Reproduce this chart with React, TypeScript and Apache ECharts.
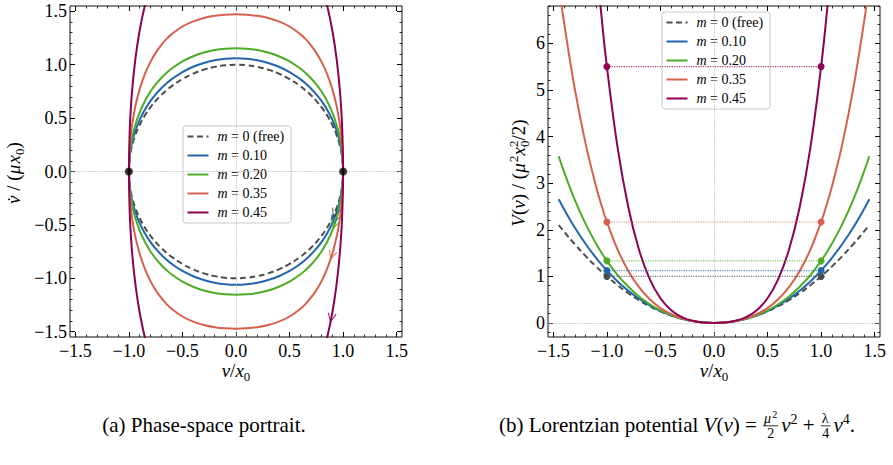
import React, { useEffect, useRef } from 'react';
import * as echarts from 'echarts';

const NAMES = ['m = 0 (free)', 'm = 0.10', 'm = 0.20', 'm = 0.35', 'm = 0.45'];
const COLORS = ['#4d4d4d', '#2166ac', '#4dac26', '#d6604d', '#8e0152'];

// (a) phase portrait: v >= 0 samples and upper-branch vdot values
const PHASE_V = [0, 0.1, 0.2, 0.3, 0.4, 0.5, 0.6, 0.65, 0.7, 0.75, 0.8, 0.85, 0.9, 0.94, 0.97, 0.99, 1.0];
const PHASE_M0 = [1, 0.995, 0.9798, 0.9539, 0.9165, 0.866, 0.8, 0.7599, 0.7141, 0.6614, 0.6, 0.5268, 0.4359, 0.3412, 0.2431, 0.1411, 0];
const PHASE_M010 = [1.0607, 1.0559, 1.0415, 1.0169, 0.9807, 0.9312, 0.8653, 0.8247, 0.7778, 0.7232, 0.6586, 0.5807, 0.4827, 0.3792, 0.271, 0.1576, 0];
const PHASE_M020 = [1.1547, 1.1503, 1.137, 1.1138, 1.0793, 1.0308, 0.9644, 0.9227, 0.8737, 0.8157, 0.7462, 0.6609, 0.5519, 0.4353, 0.312, 0.1818, 0];
const PHASE_M035 = [1.472, 1.4685, 1.4577, 1.4378, 1.406, 1.3579, 1.2867, 1.2393, 1.1818, 1.1113, 1.0241, 0.9139, 0.7689, 0.6101, 0.4392, 0.2567, 0];
const PHASE_M045 = [2.3452, 2.343, 2.3351, 2.3181, 2.2858, 2.2291, 2.1347, 2.0674, 1.9823, 1.8745, 1.7369, 1.5584, 1.3182, 1.0503, 0.7585, 0.4441, 0];

// turning points and flow arrows
const TURN_POINTS = [[-1, 0], [1, 0]];
const ARROW_V = [0.92, 0.91, 0.92, 0.895, 0.89];
const ARROW_VDOT = [-0.392, -0.46, -0.498, -0.786, -1.373];
const ARROW_ROT = [-23, -23, -19, -17, -11];

// (b) potential: v >= 0 samples and V(v) values
const POT_V = [0, 0.1, 0.2, 0.3, 0.4, 0.5, 0.6, 0.7, 0.8, 0.9, 1.0, 1.05, 1.1, 1.2, 1.3, 1.4, 1.45];
const POT_M0 = [0, 0.01, 0.04, 0.09, 0.16, 0.25, 0.36, 0.49, 0.64, 0.81, 1.0, 1.1025, 1.21, 1.44, 1.69, 1.96, 2.1025];
const POT_M010 = [0, 0.01, 0.0402, 0.091, 0.1632, 0.2578, 0.3762, 0.52, 0.6912, 0.892, 1.125, 1.2544, 1.393, 1.6992, 2.047, 2.4402, 2.6551];
const POT_M020 = [0, 0.01, 0.0405, 0.0927, 0.1685, 0.2708, 0.4032, 0.57, 0.7765, 1.0287, 1.3333, 1.5077, 1.698, 2.1312, 2.642, 3.2405, 3.576];
const POT_M035 = [0, 0.0101, 0.0419, 0.0995, 0.1899, 0.3229, 0.5112, 0.7701, 1.1179, 1.5755, 2.1667, 2.5206, 2.9181, 3.8592, 5.0221, 6.4419, 7.2598];
const POT_M045 = [0, 0.0105, 0.0472, 0.1265, 0.2752, 0.5313, 0.9432, 1.5705, 2.4832, 3.7625, 5.5, 6.5723, 7.7985, 10.77, 14.54, 19.25, 21.99];
const ENERGY = [1.0, 1.125, 1.333, 2.167, 5.5];

// ticks
const X_TICKS = [-1.5, -1.0, -0.5, 0, 0.5, 1.0, 1.5];
const VDOT_TICKS = [-1.5, -1.0, -0.5, 0, 0.5, 1.0, 1.5];
const POT_TICKS = [0, 1, 2, 3, 4, 5, 6];

const SERIF = 'serif';
const ARROW_PATH = 'path://M0,10L-5,0L-3.8,-0.7L0,7.3L3.8,-0.7L5,0Z';

function range(a: number, b: number, step: number): number[] {
  const out: number[] = [];
  const n = Math.round((b - a) / step);
  for (let i = 0; i <= n; i++) out.push(Math.round((a + i * step) * 1000) / 1000);
  return out;
}
const X_MINOR = range(-1.5, 1.5, 0.1);
const VDOT_MINOR = range(-1.5, 1.5, 0.1);
const POT_MINOR = range(-0.2, 6.8, 0.2);

const fmt1 = (v: number) => (Math.abs(v) < 1e-9 ? '0.0' : v.toFixed(1)).replace('-', '\u2212');
const fmt0 = (v: number) => String(Math.round(v)).replace('-', '\u2212');

function phaseLoop(vals: number[]): number[][] {
  const n = PHASE_V.length;
  const pts: number[][] = [];
  for (let i = n - 1; i >= 0; i--) pts.push([-PHASE_V[i], vals[i]]);
  for (let i = 1; i < n; i++) pts.push([PHASE_V[i], vals[i]]);
  for (let i = n - 2; i >= 0; i--) pts.push([PHASE_V[i], -vals[i]]);
  for (let i = 1; i < n; i++) pts.push([-PHASE_V[i], -vals[i]]);
  return pts;
}
function potCurve(vals: number[]): number[][] {
  const n = POT_V.length;
  const pts: number[][] = [];
  for (let i = n - 1; i >= 1; i--) pts.push([-POT_V[i], vals[i]]);
  for (let i = 0; i < n; i++) pts.push([POT_V[i], vals[i]]);
  return pts;
}

// ---------- text layout helpers (approximate Times-like advance widths, em units) ----------
const W_UP: Record<string, number> = {
  ' ': 0.25, '(': 0.333, ')': 0.333, '/': 0.278, '.': 0.25, '-': 0.333, '=': 0.564, '+': 0.564,
  a: 0.444, b: 0.5, c: 0.444, d: 0.5, e: 0.444, f: 0.333, g: 0.5, h: 0.5, i: 0.278, l: 0.278, m: 0.778,
  n: 0.5, o: 0.5, p: 0.5, r: 0.333, s: 0.389, t: 0.278, u: 0.5, v: 0.5, x: 0.5, z: 0.444,
  P: 0.556, L: 0.611, V: 0.722, '\u03bb': 0.55, '\u03bc': 0.576,
};
const W_IT: Record<string, number> = { v: 0.444, x: 0.444, m: 0.722, V: 0.611, '\u03bc': 0.576, '\u0307': 0 };

type Piece = { t: string; it?: boolean; s: number; dy?: number; adv?: boolean };
type Frac = { frac: true; num: Piece[]; den: Piece[] };
type Item = Piece | Frac;

function measure(p: Piece): number {
  let w = 0;
  for (const ch of p.t) {
    let cw = p.it && W_IT[ch] !== undefined ? W_IT[ch] : W_UP[ch];
    if (cw === undefined) cw = 0.5;
    w += cw;
  }
  return w * p.s;
}
function piecesWidth(ps: Piece[]): number {
  let w = 0;
  ps.forEach((p) => { if (p.adv !== false) w += measure(p); });
  return w;
}
function itemsWidth(items: Item[]): number {
  let w = 0;
  items.forEach((it) => {
    if ((it as Frac).frac) {
      const f = it as Frac;
      w += Math.max(piecesWidth(f.num), piecesWidth(f.den)) + 4;
    } else if ((it as Piece).adv !== false) w += measure(it as Piece);
  });
  return w;
}
function textEl(p: Piece, x: number, baseline: number) {
  const style: any = { text: p.t, fontFamily: SERIF, fontSize: p.s, fill: '#000', align: 'left', verticalAlign: 'middle' };
  if (p.it) style.fontStyle = 'italic';
  return { type: 'text', x, y: baseline + (p.dy || 0) - 0.3375 * p.s, silent: true, style };
}
function renderPieces(ps: Piece[], x0: number, baseline: number, out: any[]): number {
  let x = x0;
  ps.forEach((p) => {
    out.push(textEl(p, x, baseline));
    if (p.adv !== false) x += measure(p);
  });
  return x;
}
function renderItems(items: Item[], x0: number, baseline: number): any[] {
  const out: any[] = [];
  let x = x0;
  items.forEach((it) => {
    if ((it as Frac).frac) {
      const f = it as Frac;
      const nw = piecesWidth(f.num);
      const dw = piecesWidth(f.den);
      const fw = Math.max(nw, dw) + 2;
      const barY = baseline - 6.5;
      renderPieces(f.num, x + 1 + (fw - nw) / 2, barY - 3, out);
      renderPieces(f.den, x + 1 + (fw - dw) / 2, barY + 12, out);
      out.push({
        type: 'line', silent: true,
        shape: { x1: x + 1, y1: barY, x2: x + 1 + fw, y2: barY },
        style: { stroke: '#000', lineWidth: 0.8 },
      });
      x += fw + 4;
    } else {
      const p = it as Piece;
      out.push(textEl(p, x, baseline));
      if (p.adv !== false) x += measure(p);
    }
  });
  return out;
}
function centeredLine(items: Item[], cx: number, cy: number, size: number, rotate = false) {
  const w = itemsWidth(items);
  const children = renderItems(items, -w / 2, 0.3 * size);
  return { type: 'group', x: cx, y: cy, rotation: rotate ? Math.PI / 2 : 0, children };
}

const XNAME: Item[] = [
  { t: 'v', it: true, s: 19 }, { t: '/', s: 19 }, { t: 'x', it: true, s: 19 }, { t: '0', s: 13, dy: 4 },
];
const YNAME_A: Item[] = [
  { t: 'v\u0307', it: true, s: 19 }, { t: ' / (', s: 19 }, { t: '\u03bc', it: true, s: 19 },
  { t: 'x', it: true, s: 19 }, { t: '0', s: 13, dy: 4 }, { t: ')', s: 19 },
];
const YNAME_B: Item[] = [
  { t: 'V', it: true, s: 19 }, { t: '(', s: 19 }, { t: 'v', it: true, s: 19 }, { t: ') / (', s: 19 },
  { t: '\u03bc', it: true, s: 19 }, { t: '2', s: 13, dy: -7 }, { t: 'x', it: true, s: 19 },
  { t: '2', s: 13, dy: -7, adv: false }, { t: '0', s: 13, dy: 4 }, { t: '/2)', s: 19 },
];
const CAPTION_A: Item[] = [{ t: '(a) Phase-space portrait.', s: 21 }];
const CAPTION_B: Item[] = [
  { t: '(b) Lorentzian potential ', s: 21 }, { t: 'V', it: true, s: 21 }, { t: '(', s: 21 },
  { t: 'v', it: true, s: 21 }, { t: ') = ', s: 21 },
  { frac: true, num: [{ t: '\u03bc', it: true, s: 14 }, { t: '2', s: 10, dy: -5 }], den: [{ t: '2', s: 14 }] },
  { t: 'v', it: true, s: 21 }, { t: '2', s: 14, dy: -8 }, { t: ' + ', s: 21 },
  { frac: true, num: [{ t: '\u03bb', s: 14 }], den: [{ t: '4', s: 14 }] },
  { t: 'v', it: true, s: 21 }, { t: '4', s: 14, dy: -8 }, { t: '.', s: 21 },
];

// ---------- axes ----------
function mkAxis(gridIndex: number, position: string, min: number, max: number, ticks: number[], len: number, labelFmt?: (v: number) => string, margin = 4) {
  return {
    type: 'value', gridIndex, position, min, max,
    axisLine: { show: false, onZero: false },
    splitLine: { show: false },
    minorTick: { show: false },
    axisTick: { show: true, inside: true, length: len, customValues: ticks, lineStyle: { color: '#000', width: len > 4 ? 1 : 0.8 } },
    axisLabel: labelFmt
      ? { show: true, customValues: ticks, formatter: labelFmt, color: '#000', fontFamily: SERIF, fontSize: 18, margin }
      : { show: false },
  };
}

function buildOption(): any {
  const series: any[] = [];
  const phase = [PHASE_M0, PHASE_M010, PHASE_M020, PHASE_M035, PHASE_M045];
  const pot = [POT_M0, POT_M010, POT_M020, POT_M035, POT_M045];
  const zeroLines = () => ({
    silent: true, symbol: ['none', 'none'], label: { show: false },
    lineStyle: { color: '#b8b8b8', type: 'dotted', width: 0.9 },
    emphasis: { disabled: true },
    data: [{ xAxis: 0 }, { yAxis: 0 }],
  });
  phase.forEach((vals, k) => {
    series.push({
      type: 'line', name: NAMES[k], xAxisIndex: 0, yAxisIndex: 0, data: phaseLoop(vals),
      symbol: 'none', smooth: 0.4, clip: true, z: 3 + k,
      lineStyle: { color: COLORS[k], width: 2, type: k === 0 ? [6, 3.5] : 'solid' },
      itemStyle: { color: COLORS[k] },
      emphasis: { disabled: true },
      markLine: k === 0 ? zeroLines() : undefined,
    });
  });
  series.push({
    type: 'scatter', name: '_arrows', xAxisIndex: 0, yAxisIndex: 0, z: 9,
    symbol: ARROW_PATH, symbolSize: [9, 10],
    data: ARROW_V.map((v, k) => ({ value: [v, ARROW_VDOT[k]], symbolRotate: ARROW_ROT[k], itemStyle: { color: COLORS[k] } })),
    emphasis: { disabled: true },
  });
  series.push({
    type: 'scatter', name: '_turn', xAxisIndex: 0, yAxisIndex: 0, z: 10,
    symbol: 'circle', symbolSize: 8, itemStyle: { color: '#000' }, data: TURN_POINTS,
    emphasis: { disabled: true },
  });
  pot.forEach((vals, k) => {
    series.push({
      type: 'line', name: NAMES[k], xAxisIndex: 4, yAxisIndex: 4, data: potCurve(vals),
      symbol: 'none', smooth: 0.4, clip: true, z: 3 + k,
      lineStyle: { color: COLORS[k], width: 2, type: k === 0 ? [6, 3.5] : 'solid' },
      itemStyle: { color: COLORS[k] },
      emphasis: { disabled: true },
      markLine: k === 0 ? zeroLines() : undefined,
    });
  });
  ENERGY.forEach((e, k) => {
    series.push({
      type: 'line', name: '_energy' + k, xAxisIndex: 4, yAxisIndex: 4, data: [[-1, e], [1, e]],
      symbol: 'circle', symbolSize: 7, showSymbol: true, z: 9, clip: true,
      lineStyle: { color: COLORS[k], width: 1.2, type: 'dotted', opacity: 0.75 },
      itemStyle: { color: COLORS[k] },
      emphasis: { disabled: true },
    });
  });

  const legend = (left: number, top: number) => ({
    show: true, left, top, orient: 'vertical', data: NAMES, selectedMode: false,
    itemWidth: 21, itemHeight: 8, itemGap: 5, padding: [3.5, 7, 3.5, 3.5],
    backgroundColor: 'rgba(255,255,255,0.85)', borderColor: '#c8c8c8', borderWidth: 1, borderRadius: 3,
    itemStyle: { opacity: 0 },
    formatter: (name: string) => name.replace(/^m/, '{i|m}'),
    textStyle: {
      color: '#000', fontFamily: SERIF, fontSize: 14, lineHeight: 13, padding: [0, 0, 0, 4],
      rich: { i: { fontStyle: 'italic', fontFamily: SERIF, fontSize: 14, color: '#000' } },
    },
  });

  const gA = 0, gB = 1;
  return {
    animation: false,
    backgroundColor: '#ffffff',
    textStyle: { fontFamily: SERIF },
    grid: [
      { left: 70, top: 6, width: 332, height: 331, show: true, borderColor: '#111', borderWidth: 1, backgroundColor: 'transparent' },
      { left: 548, top: 6, width: 332, height: 331, show: true, borderColor: '#111', borderWidth: 1, backgroundColor: 'transparent' },
    ],
    xAxis: [
      mkAxis(gA, 'bottom', -1.55, 1.55, X_TICKS, 5, fmt1, 5),
      mkAxis(gA, 'bottom', -1.55, 1.55, X_MINOR, 2.5),
      mkAxis(gA, 'top', -1.55, 1.55, X_TICKS, 5),
      mkAxis(gA, 'top', -1.55, 1.55, X_MINOR, 2.5),
      mkAxis(gB, 'bottom', -1.55, 1.55, X_TICKS, 5, fmt1, 5),
      mkAxis(gB, 'bottom', -1.55, 1.55, X_MINOR, 2.5),
      mkAxis(gB, 'top', -1.55, 1.55, X_TICKS, 5),
      mkAxis(gB, 'top', -1.55, 1.55, X_MINOR, 2.5),
    ],
    yAxis: [
      mkAxis(gA, 'left', -1.55, 1.55, VDOT_TICKS, 5, fmt1, 3),
      mkAxis(gA, 'left', -1.55, 1.55, VDOT_MINOR, 2.5),
      mkAxis(gA, 'right', -1.55, 1.55, VDOT_TICKS, 5),
      mkAxis(gA, 'right', -1.55, 1.55, VDOT_MINOR, 2.5),
      mkAxis(gB, 'left', -0.3, 6.8, POT_TICKS, 5, fmt0, 3),
      mkAxis(gB, 'left', -0.3, 6.8, POT_MINOR, 2.5),
      mkAxis(gB, 'right', -0.3, 6.8, POT_TICKS, 5),
      mkAxis(gB, 'right', -0.3, 6.8, POT_MINOR, 2.5),
    ],
    legend: [legend(183, 126), legend(662, 12)],
    series,
    graphic: [
      centeredLine(XNAME, 236, 371, 19),
      centeredLine(XNAME, 714, 371, 19),
      centeredLine(YNAME_A, 14, 173, 19, true),
      centeredLine(YNAME_B, 519, 173, 19, true),
      centeredLine(CAPTION_A, 204, 426, 21),
      centeredLine(CAPTION_B, 675, 426, 21),
    ],
  };
}

export default function App() {
  const ref = useRef<HTMLDivElement>(null);
  useEffect(() => {
    if (!ref.current) return;
    const chart = echarts.init(ref.current, null, { renderer: 'svg' });
    chart.setOption(buildOption());
    return () => chart.dispose();
  }, []);
  return (
    <div
      ref={ref}
      style={{ position: 'fixed', left: 0, top: 0, width: 893, height: 465, background: '#fff' }}
    />
  );
}
